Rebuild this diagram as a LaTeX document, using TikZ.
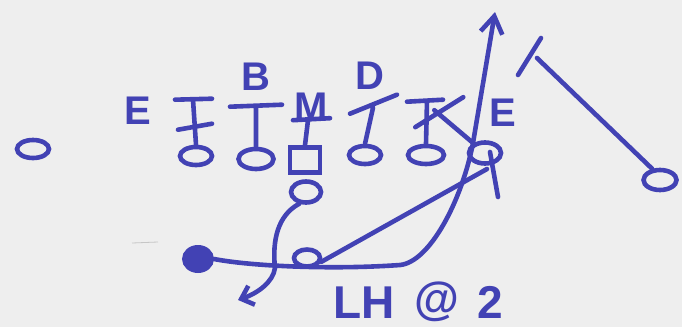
\documentclass[tikz,border=0pt]{standalone}
\usepackage{fontspec}
\setmainfont{Liberation Sans}
\usepackage{xcolor}
\definecolor{ink}   {HTML}{4242B4}
\definecolor{paper} {HTML}{EEEEEE}
\usetikzlibrary{arrows.meta, positioning, calc, shapes.geometric}
\tikzset{
    player/.style={ellipse, draw=ink, line width=4.6pt, inner sep=0pt,
                   minimum width=32pt, minimum height=18pt},
    snapper/.style={rectangle, draw=ink, line width=4.6pt, inner sep=0pt,
                   minimum width=30pt, minimum height=25pt},
    ballcarrier/.style={ellipse, draw=ink, fill=ink, line width=2pt,
                   minimum width=30pt, minimum height=26pt, inner sep=0pt},
    tag/.style={text=ink, inner sep=0pt,
                font=\bfseries\fontsize{40}{40}\selectfont},
    route/.style={draw=ink, line width=4.6pt, line cap=round, line join=round},
    run/.style={route, -{Straight Barb[length=17pt, width=22pt]}},
    shortrun/.style={route, -{Straight Barb[length=11pt, width=20pt]}},
}

\begin{document}
\begin{tikzpicture}[x=1pt, y=-1pt]
    \useasboundingbox[fill=paper] (0,0) rectangle (682,327);
    % line and ends
    \node[player] (se) at (33,149) {};
    \node[player] (lt) at (196,156) {};
    \node[player, minimum width=35pt, minimum height=20pt] (lg) at (256,159) {};
    \node[snapper] (c) at (305,160) {};
    \node[player] (rg) at (365,155) {};
    \node[player, minimum width=36pt] (rt) at (426,155) {};
    \node[player, minimum height=21pt] (te) at (485,153) {};
    \node[player, minimum width=33pt, minimum height=20pt] (fl) at (660,180) {};
    % backfield
    \node[player, minimum width=30pt, minimum height=21pt] (fb) at (306,192) {};
    \node[player, minimum width=26pt, minimum height=17pt] (hb) at (307,258) {};
    \node[ballcarrier] (qb) at (198,259) {};
    % defense
    \node[tag] (endL) at (138,111) {E};
    \node[tag] (buck) at (256,77) {B};
    \node[tag] (mike) at (311,107) {M};
    \node[tag] (dog) at (370,76) {D};
    \node[tag] (endR) at (503,113) {E};
    \node[tag, anchor=base west, font=\bfseries\fontsize{46}{46}\selectfont]
        (call) at (333,318) {LH\hspace{20pt}\raisebox{4pt}{@}\hspace{18pt}2};
    \coordinate (deep) at (495,12);
    \coordinate (flTurn) at (537,58);
    \coordinate (hbEnd) at (487,169);
    \coordinate (fbEnd) at (238,300);
    % blocks
    \draw[route] (lt.north) -- ++(-3,-45) ++(-18,0) -- ++(37,-1);
    \draw[route] ($(lt.north)+(-18,-15)$) -- ++(34,-6);
    \draw[route] (lg.north) -- ++(0,-40) ++(-26,0) -- ++(52,-2);
    \draw[route] (c.north) -- ++(3,-25) ++(-15,0) -- ++(37,-2);
    \draw[route] (rg.north) -- ++(8,-36) ++(-23,6) -- ++(47,-19);
    \draw[route] (rt.north) -- ++(1,-43) ++(-20,1) -- ++(36,-2);
    \draw[route] (te.140) -- ++(-39,-33) ++(-19,17) -- ++(48,-30);
    % routes
    \draw[route] (fl.125) -- (flTurn);
    \draw[route] ($(flTurn)+(4,-20)$) -- ($(flTurn)+(-19,17)$);
    \draw[route] (hb.-15) -- (hbEnd);
    \draw[route] ($(hbEnd)+(3,-17)$) -- ++(8,45);
    \draw[run] (qb.east) .. controls (250,266) and (330,270) .. (400,265)
        .. controls (430,262) and (462,200) .. (473,143) -- (deep);
    \draw[shortrun] (fb.-120) .. controls (278,215) and (272,240) .. (275,268)
        .. controls (273,282) and (258,293) .. (fbEnd);
    \draw[gray!45, line width=0.8pt] (132,243) -- (158,242);
\end{tikzpicture}
\end{document}
